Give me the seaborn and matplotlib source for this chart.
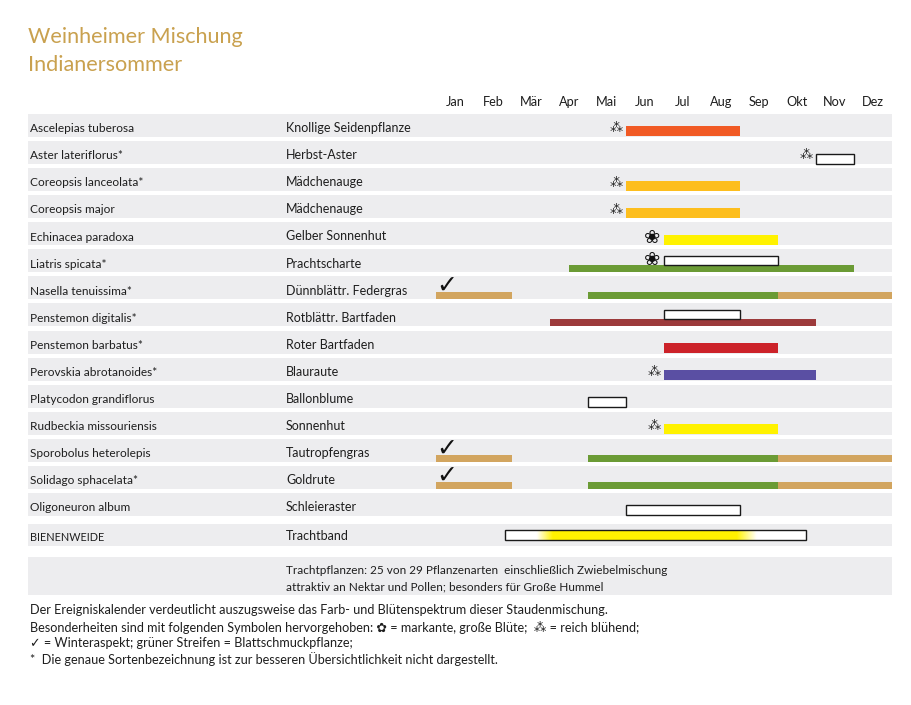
import numpy as np
import matplotlib
matplotlib.use("Agg")
import matplotlib.pyplot as plt
from matplotlib.colors import LinearSegmentedColormap
import seaborn as sns

# ---------------- data ----------------
title_lines = ["Weinheimer Mischung", "Indianersommer"]
months = ["Jan", "Feb", "Mär", "Apr", "Mai", "Jun", "Jul", "Aug", "Sep", "Okt", "Nov", "Dez"]
species = ["Ascelepias tuberosa", "Aster lateriflorus*", "Coreopsis lanceolata*", "Coreopsis major",
           "Echinacea paradoxa", "Liatris spicata*", "Nasella tenuissima*", "Penstemon digitalis*",
           "Penstemon barbatus*", "Perovskia abrotanoides*", "Platycodon grandiflorus",
           "Rudbeckia missouriensis", "Sporobolus heterolepis", "Solidago sphacelata*", "Oligoneuron album"]
common = ["Knollige Seidenpflanze", "Herbst-Aster", "Mädchenauge", "Mädchenauge", "Gelber Sonnenhut",
          "Prachtscharte", "Dünnblättr. Federgras", "Rotblättr. Bartfaden", "Roter Bartfaden", "Blauraute",
          "Ballonblume", "Sonnenhut", "Tautropfengras", "Goldrute", "Schleieraster"]
# flowering period (month index start, end); colour None = white (colour not shown)
bloom_start = [5, 10, 5, 5, 6, 6, None, 6, 6, 6, 4, 6, None, None, 5]
bloom_end = [8, 11, 8, 8, 9, 9, None, 8, 9, 10, 5, 9, None, None, 8]
bloom_color = ["#f15a24", None, "#fdbe1e", "#fdbe1e", "#fff200", None, None, None, "#cc2229",
               "#5a4fa3", None, "#fff200", None, None, None]
# foliage / winter aspect segments: (row, start, end, kind)
foliage_row = [5, 6, 6, 6, 7, 12, 12, 12, 13, 13, 13]
foliage_start = [3.5, 0, 4, 9, 3, 0, 4, 9, 0, 4, 9]
foliage_end = [11, 2, 9, 12, 10, 2, 9, 12, 2, 9, 12]
foliage_kind = ["green", "tan", "green", "tan", "darkred", "tan", "green", "tan", "tan", "green", "tan"]
# symbols: "rich" = reich blühend, "big" = markante, große Blüte, "winter" = Winteraspekt
symbol_row = [0, 1, 2, 3, 4, 5, 9, 11, 6, 12, 13]
symbol_kind = ["rich", "rich", "rich", "rich", "big", "big", "rich", "rich", "winter", "winter", "winter"]
# bee pasture band
bee_label = ["BIENENWEIDE", "Trachtband"]
bee_start, bee_end = 1.82, 9.74
bee_solid = (3.08, 7.92)
bee_fade = (2.65, 8.45)
tracht_text = ["Trachtpflanzen: 25 von 29 Pflanzenarten  einschließlich Zwiebelmischung",
               "attraktiv an Nektar und Pollen; besonders für Große Hummel"]
footer = ["Der Ereigniskalender verdeutlicht auszugsweise das Farb- und Blütenspektrum dieser Staudenmischung.",
          "Besonderheiten sind mit folgenden Symbolen hervorgehoben: \u273F = markante, große Blüte;  \u2042 = reich blühend;",
          "\u2713 = Winteraspekt; grüner Streifen = Blattschmuckpflanze;",
          "*  Die genaue Sortenbezeichnung ist zur besseren Übersichtlichkeit nicht dargestellt."]

# ---------------- style ----------------
sns.set_theme(style="white")
FONT = ["Lato", "DejaVu Sans"]
plt.rcParams["font.family"] = FONT
kind_colors = {"green": "#6b9b35", "tan": "#d2a55f", "darkred": "#9c3a3b"}
band_color = "#ededef"
txt = "#1e1e1e"
gold = "#c9a14f"

W, H = 912, 705
fig = plt.figure(figsize=(W / 100, H / 100), dpi=100)
ax = fig.add_axes([0, 0, 1, 1])
# month scale: Jan starts at px 436, 38 px per month; rows: 27.07 px pitch starting at px 114
X0, MW = 436.0, 38.0
Y0, RP = 114.0, 27.07
ax.set_xlim(-X0 / MW, (W - X0) / MW)
ax.set_ylim((H - Y0) / RP, -Y0 / RP)
ax.axis("off")

def px_x(p):
    return (p - X0) / MW

def px_y(p):
    return (p - Y0) / RP

left = px_x(28)
full = 12 - left
band_h = 23 / RP

# title
ax.text(px_x(28), px_y(37), title_lines[0], color=gold, fontsize=15.6, va="center", ha="left")
ax.text(px_x(28), px_y(65), title_lines[1], color=gold, fontsize=15.6, va="center", ha="left")

# month header
for m, name in enumerate(months):
    ax.text(m + 0.5, px_y(102), name, fontsize=9.2, ha="center", va="center", color=txt)

n = len(species)
# row bands and labels
ax.barh([i + band_h / 2 for i in range(n)], [full] * n, left=left, height=band_h,
        color=band_color, linewidth=0, zorder=1)
for i in range(n):
    ax.text(px_x(30), i + band_h / 2 + 0.12, species[i], fontsize=8.6, va="center", ha="left", color=txt, zorder=5)
    ax.text(px_x(286), i + band_h / 2 + 0.1, common[i], fontsize=9.0, va="center", ha="left", color=txt, zorder=5)

has_foliage = set(foliage_row)
# flowering bars
for i in range(n):
    if bloom_start[i] is None:
        continue
    if i in has_foliage:
        top, h = 0.25, 0.34
    else:
        top, h = 0.46, 0.37
    c = bloom_color[i]
    ax.barh(i + top + h / 2, bloom_end[i] - bloom_start[i], left=bloom_start[i], height=h,
            color=c if c else "white", edgecolor="none" if c else "#1a1a1a",
            linewidth=0 if c else 1.0, zorder=3)

# foliage bars
for r, s, e, k in zip(foliage_row, foliage_start, foliage_end, foliage_kind):
    top, h = 0.59, 0.255
    ax.barh(r + top + h / 2, e - s, left=s, height=h, color=kind_colors[k], linewidth=0, zorder=2)

# symbols
for r, k in zip(symbol_row, symbol_kind):
    if k == "winter":
        ax.text(0.29, r + 0.36, "\u2713", fontsize=18, ha="center", va="center", color="#111111",
                family="DejaVu Sans", zorder=6)
    elif k == "rich":
        s = bloom_start[r]
        ax.text(s - 0.27, r + 0.55, "\u2042", fontsize=9.5, ha="center", va="center", color="#222222",
                family="DejaVu Sans", zorder=6)
    else:
        s = bloom_start[r]
        ax.text(s - 0.32, r + 0.55 if r == 4 else r + 0.36, "\u2740", fontsize=14, ha="center",
                va="center", color="#111111", family="DejaVu Sans", fontweight="bold", zorder=6)

# bee pasture band
yb = px_y(524)
bh = 22 / RP
ax.barh(yb + bh / 2, full, left=left, height=bh, color=band_color, linewidth=0, zorder=1)
ax.text(px_x(30), yb + bh / 2 + 0.08, bee_label[0], fontsize=7.8, va="center", ha="left", color=txt)
ax.text(px_x(286), yb + bh / 2 + 0.05, bee_label[1], fontsize=9.0, va="center", ha="left", color=txt)
by0, by1 = px_y(530), px_y(540)
xs = np.linspace(bee_start, bee_end, 600)
vals = np.interp(xs, [bee_start, bee_fade[0], bee_solid[0], bee_solid[1], bee_fade[1], bee_end],
                 [0, 0, 1, 1, 0, 0])
cmap = LinearSegmentedColormap.from_list("bee", ["#ffffff", "#fff200"])
ax.imshow(vals[np.newaxis, :], extent=(bee_start, bee_end, by1, by0), aspect="auto", cmap=cmap,
          vmin=0, vmax=1, zorder=3, interpolation="bilinear")
ax.barh((by0 + by1) / 2, bee_end - bee_start, left=bee_start, height=by1 - by0, fill=False,
        edgecolor="#1a1a1a", linewidth=1.0, zorder=4)

# Trachtpflanzen band
ty0, ty1 = px_y(557), px_y(595)
ax.barh((ty0 + ty1) / 2, full, left=left, height=ty1 - ty0, color=band_color, linewidth=0, zorder=1)
ax.text(px_x(286), px_y(570), tracht_text[0], fontsize=8.5, va="center", ha="left", color=txt)
ax.text(px_x(286), px_y(587), tracht_text[1], fontsize=8.5, va="center", ha="left", color=txt)

# footer
for k, (line, yy) in enumerate(zip(footer, [610, 627, 643, 659])):
    ax.text(px_x(30), px_y(yy), line, fontsize=9.1, va="center", ha="left", color=txt,
            family=FONT)

ax.set_xlim(-X0 / MW, (W - X0) / MW)
ax.set_ylim((H - Y0) / RP, -Y0 / RP)
fig.savefig("out.png", dpi=100)
